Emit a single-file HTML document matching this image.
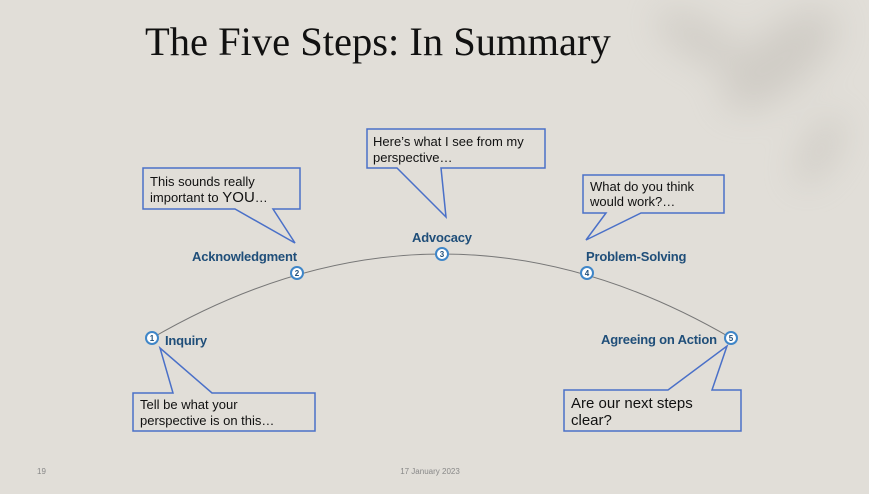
<!DOCTYPE html>
<html><head><meta charset="utf-8"><style>
body{margin:0;width:869px;height:489px;overflow:hidden;background:#e1ded8;font-family:"Liberation Sans",sans-serif;}
</style></head><body>
<svg width="869" height="489" xmlns="http://www.w3.org/2000/svg">
<defs><filter id="b"><feGaussianBlur stdDeviation="18"/></filter></defs>
<rect width="869" height="489" fill="#e1ded8"/>
<g filter="url(#b)" opacity="0.3" fill="#a9a49c">
<ellipse cx="780" cy="60" rx="70" ry="30" transform="rotate(-40 780 60)"/>
<ellipse cx="700" cy="40" rx="50" ry="18" transform="rotate(30 700 40)"/>
<ellipse cx="820" cy="150" rx="40" ry="15" transform="rotate(-60 820 150)"/>
</g>
<text x="145" y="55" font-family="Liberation Serif,serif" font-size="40.5" fill="#111">The Five Steps: In Summary</text>
<path d="M152,338 Q442,170 731,338" fill="none" stroke="#777" stroke-width="1"/>
<g fill="#e1ded8" stroke="#4a70c8" stroke-width="1.5">
<path d="M143,168 H300 V209 H273 L295,243 L235,209 H143 Z"/>
<path d="M367,129 H545 V168 H441 L446,217 L397,168 H367 Z"/>
<path d="M583,175 H724 V213 H641 L586,240 L606,213 H583 Z"/>
<path d="M133,393 H173 L160,348 L212,393 H315 V431 H133 Z"/>
<path d="M564,390 H668 L727,346 L712,390 H741 V431 H564 Z"/>
</g>
<g font-size="13" fill="#111">
<text x="150" y="186">This sounds really</text>
<text x="150" y="202">important to <tspan font-size="15">YOU</tspan>…</text>
<text x="373" y="146">Here’s what I see from my</text>
<text x="373" y="162">perspective…</text>
<text x="590" y="191">What do you think</text>
<text x="590" y="206">would work?…</text>
<text x="140" y="409">Tell be what your</text>
<text x="140" y="425">perspective is on this…</text>
<text x="571" y="408" font-size="15">Are our next steps</text>
<text x="571" y="425" font-size="15">clear?</text>
</g>
<g font-size="13" font-weight="bold" fill="#1f4e79" letter-spacing="-0.2">
<text x="192" y="261">Acknowledgment</text>
<text x="412" y="242">Advocacy</text>
<text x="586" y="261">Problem-Solving</text>
<text x="165" y="345">Inquiry</text>
<text x="601" y="344">Agreeing on Action</text>
</g>
<g fill="#fff" stroke="#3f86c8" stroke-width="2">
<circle cx="152" cy="338" r="6"/><circle cx="297" cy="273" r="6"/><circle cx="442" cy="254" r="6"/><circle cx="587" cy="273" r="6"/><circle cx="731" cy="338" r="6"/>
</g>
<g font-size="8" font-weight="bold" fill="#1f4e79" text-anchor="middle">
<text x="152" y="341">1</text><text x="297" y="276">2</text><text x="442" y="257">3</text><text x="587" y="276">4</text><text x="731" y="341">5</text>
</g>
<text x="37" y="474" font-size="8" fill="#888">19</text>
<text x="430" y="474" font-size="8" fill="#888" text-anchor="middle">17 January 2023</text>
</svg>
</body></html>
